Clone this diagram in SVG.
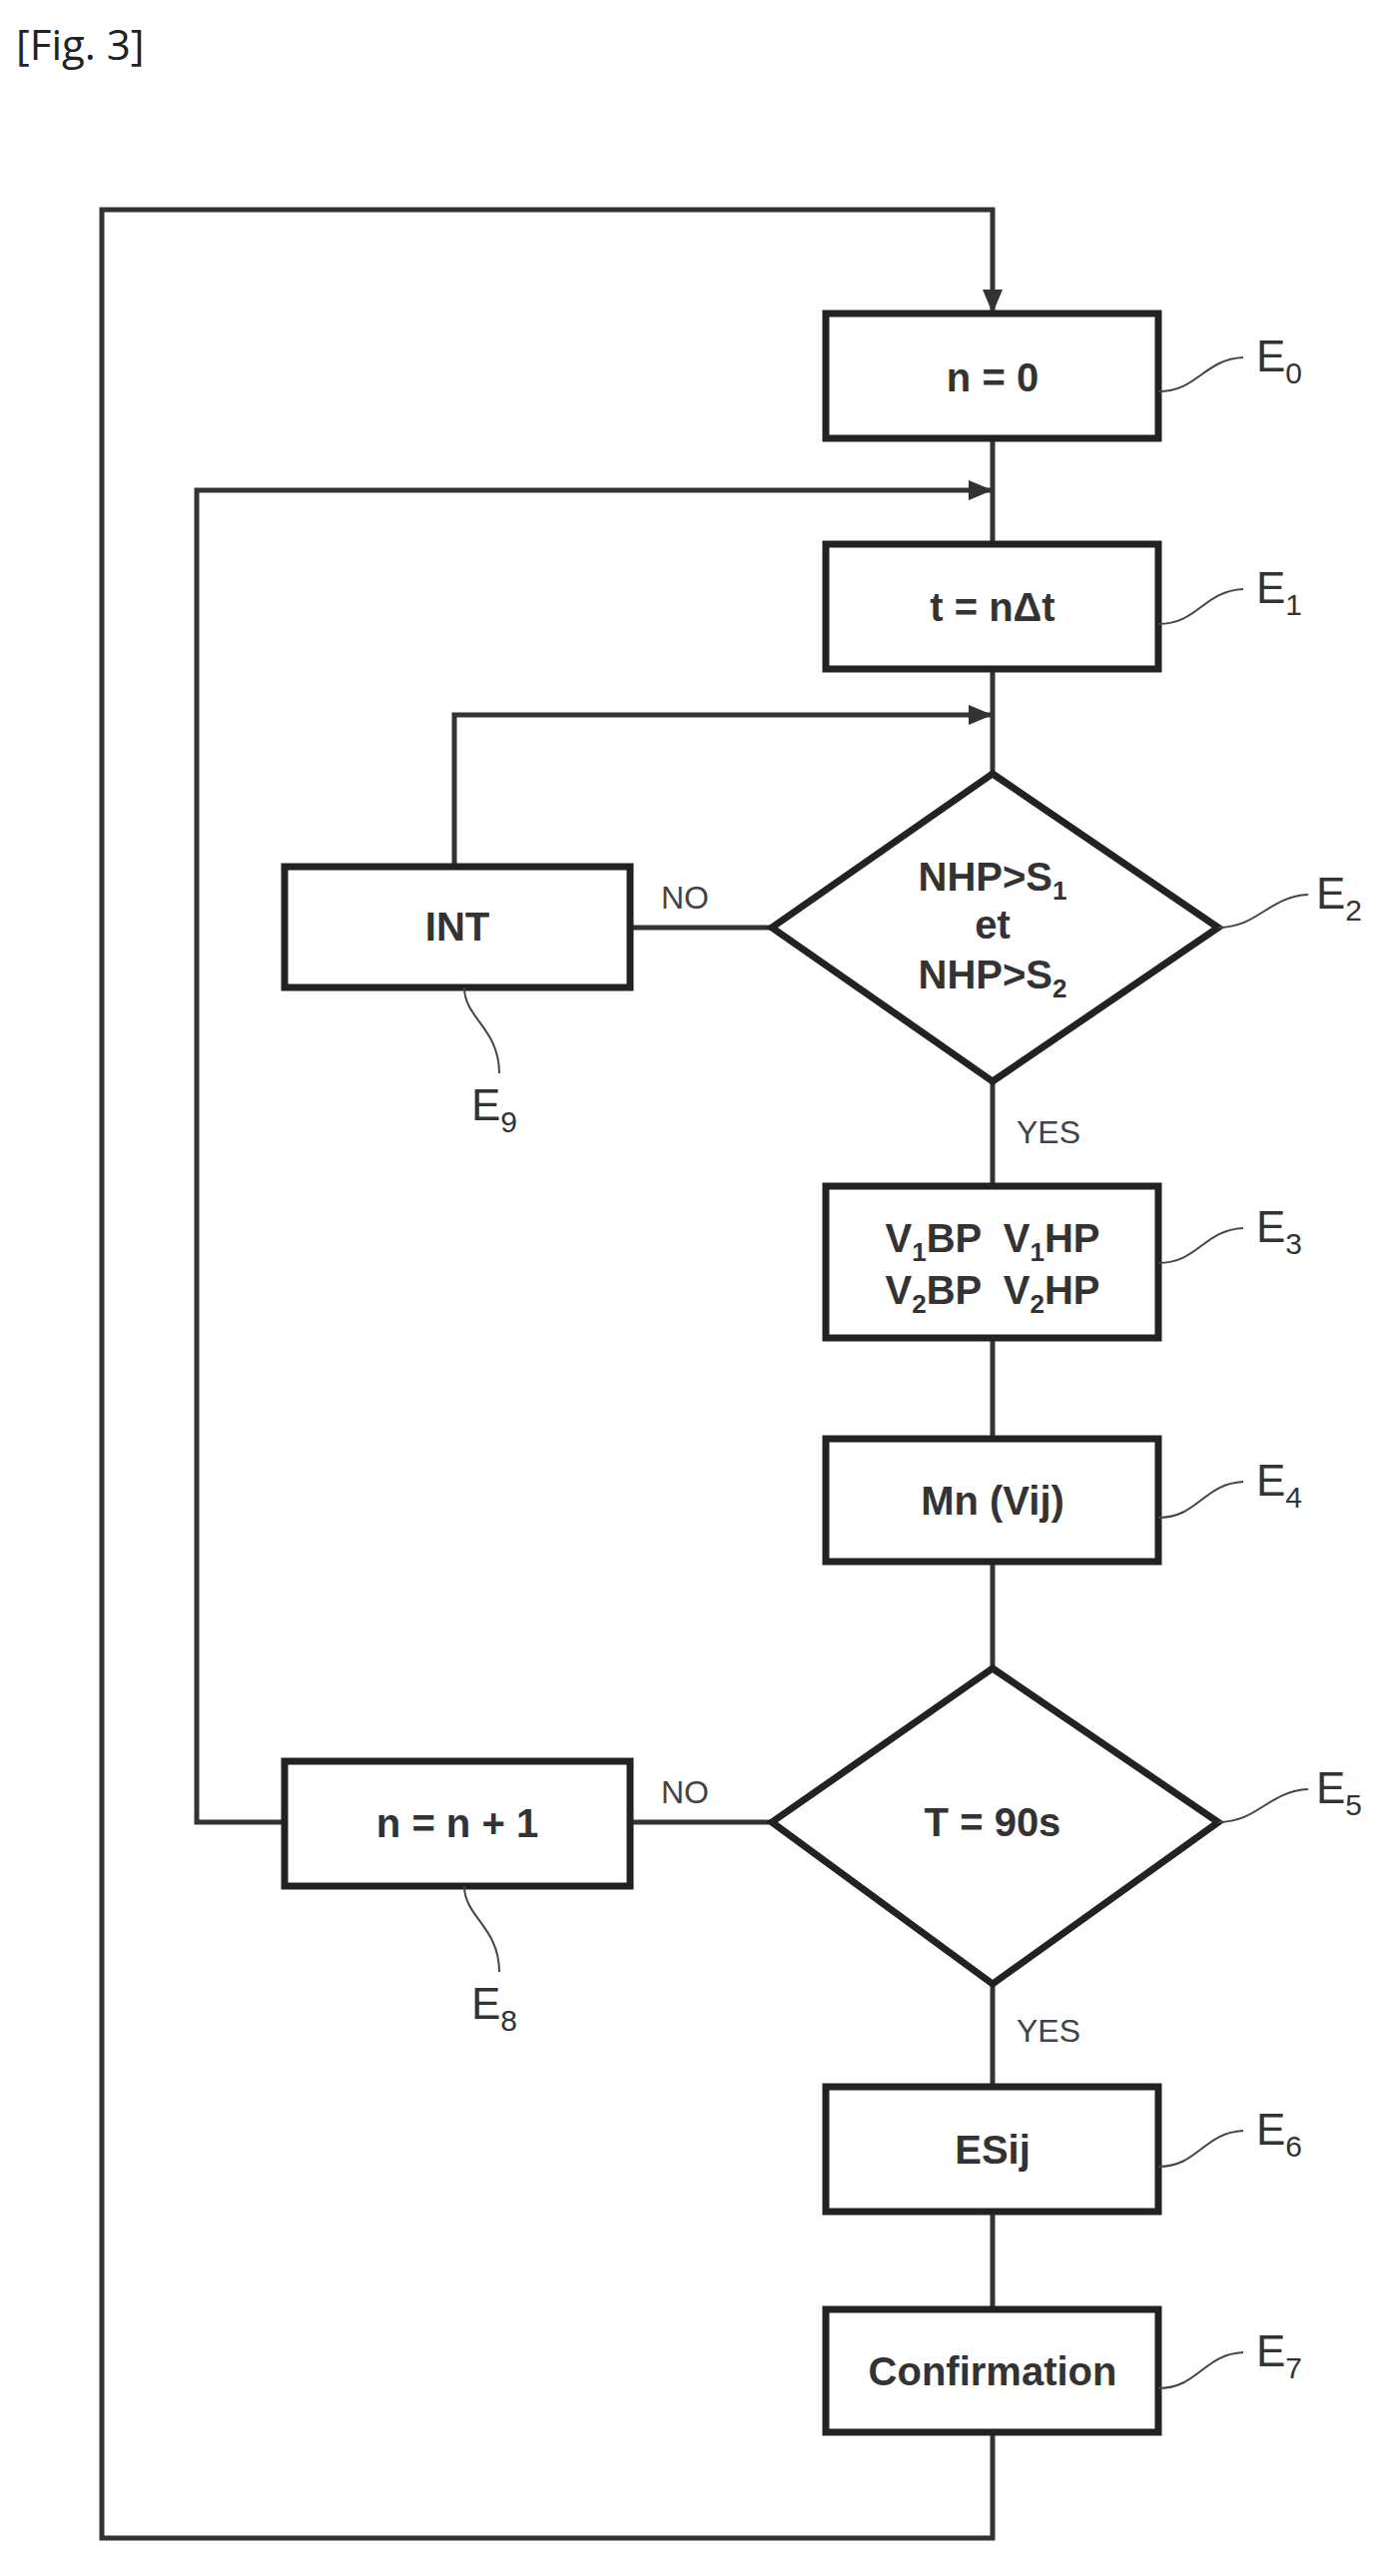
<svg xmlns="http://www.w3.org/2000/svg" width="1392" height="2580" viewBox="0 0 1392 2580">
<style>
.b{fill:#fff;stroke:#222;stroke-width:7}
.l{fill:none;stroke:#333;stroke-width:5}
.t{font-family:"Liberation Sans",Arial,sans-serif;font-size:40px;font-weight:bold;fill:#333;text-anchor:middle}
.s{font-family:"Liberation Sans",Arial,sans-serif;font-size:32px;fill:#444}
.e{font-family:"Liberation Sans",Arial,sans-serif;font-size:44px;fill:#333}
.q{fill:none;stroke:#444;stroke-width:2}
</style>
<defs><marker id="A" markerWidth="24" markerHeight="24" refX="22" refY="12" orient="auto" markerUnits="userSpaceOnUse" viewBox="0 0 24 24"><path d="M0,2L24,12L0,22z" fill="#333"/></marker></defs>
<rect width="1392" height="2580" fill="#fff"/>
<text x="16" y="60" font-family="'Open Sans',sans-serif" font-size="42" fill="#222">[Fig. 3]</text>
<g id="connectors">
<path class="l" d="M994,2436V2542H102V210H994V312" marker-end="url(#A)"/>
<path class="l" d="M994,439V545"/>
<path class="l" d="M285,1825H197V491H992" marker-end="url(#A)"/>
<path class="l" d="M994,670V775"/>
<path class="l" d="M455,868V716H992" marker-end="url(#A)"/>
<path class="l" d="M773,929H631"/>
<path class="l" d="M994,1083V1188"/>
<path class="l" d="M994,1340V1441"/>
<path class="l" d="M994,1564V1671"/>
<path class="l" d="M773,1825H631"/>
<path class="l" d="M994,1987V2090"/>
<path class="l" d="M994,2215V2313"/>
<text class="s" x="662" y="910">NO</text>
<text class="s" x="662" y="1806">NO</text>
<text class="s" x="1018" y="1145">YES</text>
<text class="s" x="1018" y="2045">YES</text>
</g>
<g id="E0"><rect class="b" x="827" y="314" width="333" height="125"/><text class="t" x="994" y="392">n = 0</text>
<path class="q" d="M1160,392C1200,392 1205,360 1245,358"/><text class="e" x="1258" y="372">E<tspan font-size="30" dy="12">0</tspan></text></g>
<g id="E1"><rect class="b" x="827" y="545" width="333" height="125"/><text class="t" x="994" y="622">t = nΔt</text>
<path class="q" d="M1160,625C1200,625 1205,592 1245,590"/><text class="e" x="1258" y="604">E<tspan font-size="30" dy="12">1</tspan></text></g>
<g id="E2"><polygon class="b" points="994,775 1220,929 994,1083 773,929"/>
<text class="t" x="994" y="892" font-size="36">NHP&gt;S<tspan font-size="26" dy="9">1</tspan></text>
<text class="t" x="994" y="940" font-size="32">et</text>
<text class="t" x="994" y="990" font-size="36">NHP&gt;S<tspan font-size="26" dy="9">2</tspan></text>
<path class="q" d="M1220,929C1260,929 1270,898 1310,896"/><text class="e" x="1318" y="910">E<tspan font-size="30" dy="12">2</tspan></text></g>
<g id="E9"><rect class="b" x="285" y="868" width="346" height="121"/><text class="t" x="458" y="942">INT</text>
<path class="q" d="M465,989C465,1020 500,1030 500,1075"/><text class="e" x="472" y="1122">E<tspan font-size="30" dy="12">9</tspan></text></g>
<g id="E3"><rect class="b" x="827" y="1188" width="333" height="152"/>
<text class="t" x="994" y="1254" xml:space="preserve">V<tspan font-size="26" dy="9">1</tspan><tspan dy="-9">BP  V</tspan><tspan font-size="26" dy="9">1</tspan><tspan dy="-9">HP</tspan></text>
<text class="t" x="994" y="1306" xml:space="preserve">V<tspan font-size="26" dy="9">2</tspan><tspan dy="-9">BP  V</tspan><tspan font-size="26" dy="9">2</tspan><tspan dy="-9">HP</tspan></text>
<path class="q" d="M1160,1265C1200,1265 1205,1232 1245,1230"/><text class="e" x="1258" y="1244">E<tspan font-size="30" dy="12">3</tspan></text></g>
<g id="E4"><rect class="b" x="827" y="1441" width="333" height="123"/><text class="t" x="994" y="1517">Mn (Vij)</text>
<path class="q" d="M1160,1520C1200,1520 1205,1486 1245,1484"/><text class="e" x="1258" y="1498">E<tspan font-size="30" dy="12">4</tspan></text></g>
<g id="E5"><polygon class="b" points="994,1671 1220,1825 994,1987 773,1825"/><text class="t" x="994" y="1839" font-weight="normal">T = 90s</text>
<path class="q" d="M1220,1825C1260,1825 1270,1794 1310,1792"/><text class="e" x="1318" y="1806">E<tspan font-size="30" dy="12">5</tspan></text></g>
<g id="E8"><rect class="b" x="285" y="1764" width="346" height="125"/><text class="t" x="458" y="1840" font-weight="normal">n = n + 1</text>
<path class="q" d="M465,1889C465,1920 500,1930 500,1975"/><text class="e" x="472" y="2022">E<tspan font-size="30" dy="12">8</tspan></text></g>
<g id="E6"><rect class="b" x="827" y="2090" width="333" height="125"/><text class="t" x="994" y="2167">ESij</text>
<path class="q" d="M1160,2170C1200,2170 1205,2136 1245,2134"/><text class="e" x="1258" y="2148">E<tspan font-size="30" dy="12">6</tspan></text></g>
<g id="E7"><rect class="b" x="827" y="2313" width="333" height="123"/><text class="t" x="994" y="2389">Confirmation</text>
<path class="q" d="M1160,2392C1200,2392 1205,2358 1245,2356"/><text class="e" x="1258" y="2370">E<tspan font-size="30" dy="12">7</tspan></text></g>
</svg>
